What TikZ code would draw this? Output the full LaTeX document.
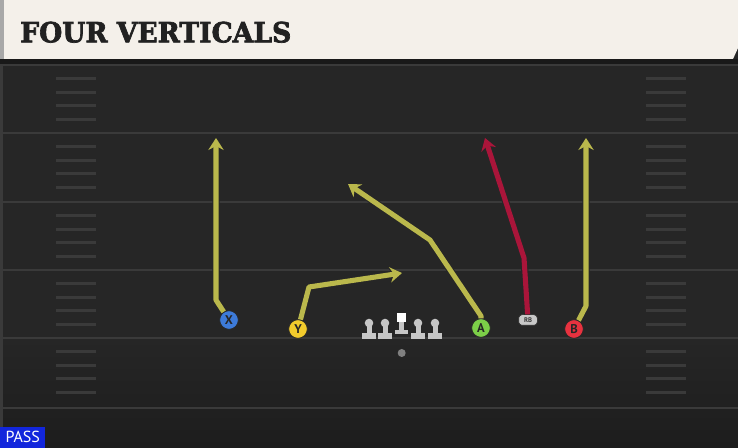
\documentclass[tikz,border=0pt]{standalone}
\usepackage{fontspec}
\usepackage{graphicx}
\usepackage{tikz}
\usetikzlibrary{arrows.meta}

\newfontfamily\titlefont[FakeBold=2.5]{DejaVu Serif}
\newfontfamily\labelfont{PT Sans}

\definecolor{field}{HTML}{262626}
\definecolor{fielddark}{HTML}{1D1D1D}
\definecolor{yard}{HTML}{3A3A3A}
\definecolor{header}{HTML}{F4F0EA}
\definecolor{headerstrip}{HTML}{A8A8A8}
\definecolor{routeyellow}{HTML}{BAB84C}
\definecolor{routered}{HTML}{AA153A}
\definecolor{xblue}{HTML}{3D7BDA}
\definecolor{yyellow}{HTML}{F2CB2C}
\definecolor{agreen}{HTML}{7CCF48}
\definecolor{bred}{HTML}{E8323F}
\definecolor{rbgrey}{HTML}{C8C8C8}
\definecolor{passblue}{HTML}{1226DC}
\definecolor{lineman}{HTML}{C6C6C6}

\begin{document}
\begin{tikzpicture}[x=0.75pt, y=-0.75pt,
    player/.style={circle, draw=black!85, line width=0.6pt, fill=#1, minimum size=14pt, inner sep=0pt,
        font=\labelfont\bfseries\fontsize{9.5}{9.5}\selectfont, text=black!85},
    rbbox/.style={rounded corners=2.5pt, draw=black!85, line width=0.5pt, fill=rbgrey, minimum width=14pt,
        minimum height=8pt, inner sep=0pt, font=\labelfont\bfseries\fontsize{5}{5}\selectfont, text=black!80},
    route/.style={draw=#1, line width=3.8pt, line join=round,
        preaction={draw=black!85, line width=5.4pt, -{Stealth[length=10.5pt, width=13.5pt, inset=3.5pt]}},
        -{Stealth[length=9pt, width=11.5pt, inset=3pt]}},
    yardline/.style={yard, line width=2pt},
    hashmark/.style={yard, line width=2pt}]
    \useasboundingbox (0,0) rectangle (738,448);

    % Field
    \fill[field] (0,0) rectangle (738,448);
    \shade[top color=field, bottom color=fielddark] (0,338) rectangle (738,448);
    \fill[black!90] (0,59) rectangle (738,64);
    \foreach \yy in {65,133,202,270,338,408}
        \draw[yardline] (0,\yy) -- (738,\yy);
    \foreach \yy in {65,133,202,270,338}
        \foreach \k in {1,...,4} {
            \draw[hashmark] (56,{\yy+13.6*\k}) -- (96,{\yy+13.6*\k});
            \draw[hashmark] (646,{\yy+13.6*\k}) -- (686,{\yy+13.6*\k});
        }
    \draw[yard, line width=2pt] (1.5,64) -- (1.5,448);

    % Header
    \fill[header] (0,0) -- (738,0) -- (738,48) -- (733,59) -- (0,59) -- cycle;
    \fill[headerstrip] (0,0) rectangle (4,59);
    \node[anchor=south west, inner sep=0pt, text=black!87] (title) at (20,43)
        {\resizebox{203.25pt}{15.5pt}{\titlefont\bfseries FOUR VERTICALS}};

    % Line
    \foreach \lx in {369,385,418,435} {
        \fill[lineman] (\lx,323) circle (3.2pt);
        \fill[lineman] (\lx-2.5,323) rectangle (\lx+2.5,333);
        \fill[lineman] (\lx-7,333) rectangle (\lx+7,339);
    }
    \fill[white] (397,313) rectangle (406,322);
    \fill[lineman] (399,322) rectangle (404,330);
    \fill[lineman] (395,330) rectangle (408,334);
    \fill[gray] (401.7,353) circle (3pt);

    % Nodes
    \node[player=xblue] (X) at (229,320) {X};
    \node[player=yyellow] (Y) at (298,329) {Y};
    \node[player=agreen] (A) at (481,328) {A};
    \node[rbbox] (RB) at (528,320) {RB};
    \node[player=bred] (B) at (574,329) {B};

    \coordinate (x1) at (216,300);
    \coordinate (x2) at (216,138);
    \coordinate (y1) at (309,287);
    \coordinate (y2) at (402,273);
    \coordinate (a1) at (481,316);
    \coordinate (a2) at (430,240);
    \coordinate (a3) at (348,184);
    \coordinate (rb1) at (524,258);
    \coordinate (rb2) at (485,138);
    \coordinate (b1) at (586,306);
    \coordinate (b2) at (586,138);

    % Routes
    \draw[route=routeyellow] (X) -- (x1) -- (x2);
    \draw[route=routeyellow] (Y) -- (y1) -- (y2);
    \draw[route=routeyellow] (A) -- (a1) -- (a2) -- (a3);
    \draw[route=routered] (RB) -- (rb1) -- (rb2);
    \draw[route=routeyellow] (B) -- (b1) -- (b2);

    % Tag
    \node[fill=passblue, text=white, anchor=south west, inner sep=0pt, minimum width=33.75pt,
        minimum height=15.75pt, font=\labelfont\fontsize{12}{12}\selectfont] (pass) at (0,448) {PASS};
\end{tikzpicture}
\end{document}
